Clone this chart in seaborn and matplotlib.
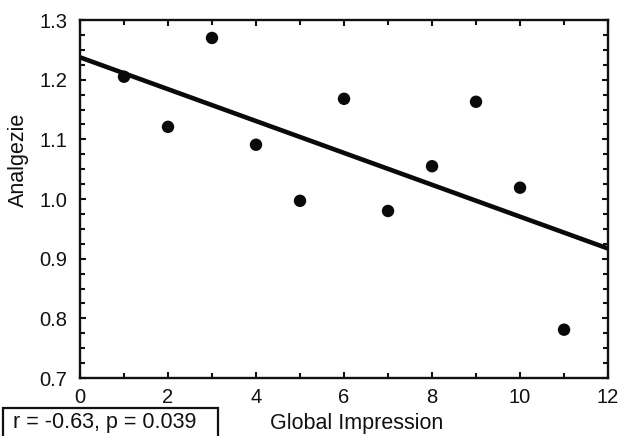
import matplotlib
matplotlib.use("Agg")
import matplotlib.pyplot as plt
from matplotlib.ticker import MultipleLocator
from matplotlib.patches import Rectangle
import seaborn as sns
import pandas as pd

global_impression = [1, 2, 3, 4, 5, 6, 7, 8, 9, 10, 11]
analgezie = [1.205, 1.121, 1.270, 1.091, 0.997, 1.168, 0.980, 1.055, 1.163, 1.019, 0.781]
x_ticks = [0, 2, 4, 6, 8, 10, 12]
y_ticks = [0.7, 0.8, 0.9, 1.0, 1.1, 1.2, 1.3]
stat_text = "r = -0.63, p = 0.039"

df = pd.DataFrame({"Global Impression": global_impression, "Analgezie": analgezie})

sns.set_style("ticks")
plt.rcParams["font.family"] = ["Liberation Sans", "DejaVu Sans"]

fig = plt.figure(figsize=(6.23, 4.36), dpi=100)
ax = fig.add_axes([0.1284, 0.133, 0.8476, 0.821])
ax.set_xlim(0, 12)
ax.set_ylim(0.7, 1.3)

sns.regplot(data=df, x="Global Impression", y="Analgezie", ax=ax, ci=None,
            truncate=False, color="#0a0a0a",
            scatter_kws=dict(s=80, edgecolor="none", alpha=1, zorder=3),
            line_kws=dict(linewidth=3.3, color="#0a0a0a", solid_capstyle="butt"))
ax.set_xlim(0, 12)
ax.set_ylim(0.7, 1.3)

ax.set_xticks(x_ticks)
ax.set_xticklabels([str(v) for v in x_ticks])
ax.set_yticks(y_ticks)
ax.set_yticklabels([f"{v:.1f}" for v in y_ticks])
ax.xaxis.set_minor_locator(MultipleLocator(1))
ax.yaxis.set_minor_locator(MultipleLocator(0.025))

for s in ax.spines.values():
    s.set_visible(True)
    s.set_linewidth(1.7)
    s.set_color("#111111")

ax.tick_params(which="both", direction="in", top=True, right=True,
               width=1.5, color="#111111", labelsize=14.5, labelcolor="#111111")
ax.tick_params(which="major", length=4)
ax.tick_params(which="minor", length=3.5)
ax.tick_params(axis="x", which="major", pad=7)
ax.tick_params(axis="y", which="major", pad=9)

ax.set_xlabel("Global Impression", fontsize=15.5, color="#111111")
ax.xaxis.set_label_coords(0.523, -0.128)
ax.xaxis.label.set_va("center")
ax.set_ylabel("Analgezie", fontsize=15.5, color="#111111")
ax.yaxis.set_label_coords(-0.1165, 0.609)
ax.yaxis.label.set_va("center")

fig.add_artist(Rectangle((0.0048, -0.05), 0.345, 0.1142, transform=fig.transFigure,
                         facecolor="white", edgecolor="#111111", linewidth=1.6))
fig.text(0.0204, 0.032, stat_text, fontsize=15.5, color="#111111", va="center", ha="left")

fig.savefig("out.png", dpi=100)
